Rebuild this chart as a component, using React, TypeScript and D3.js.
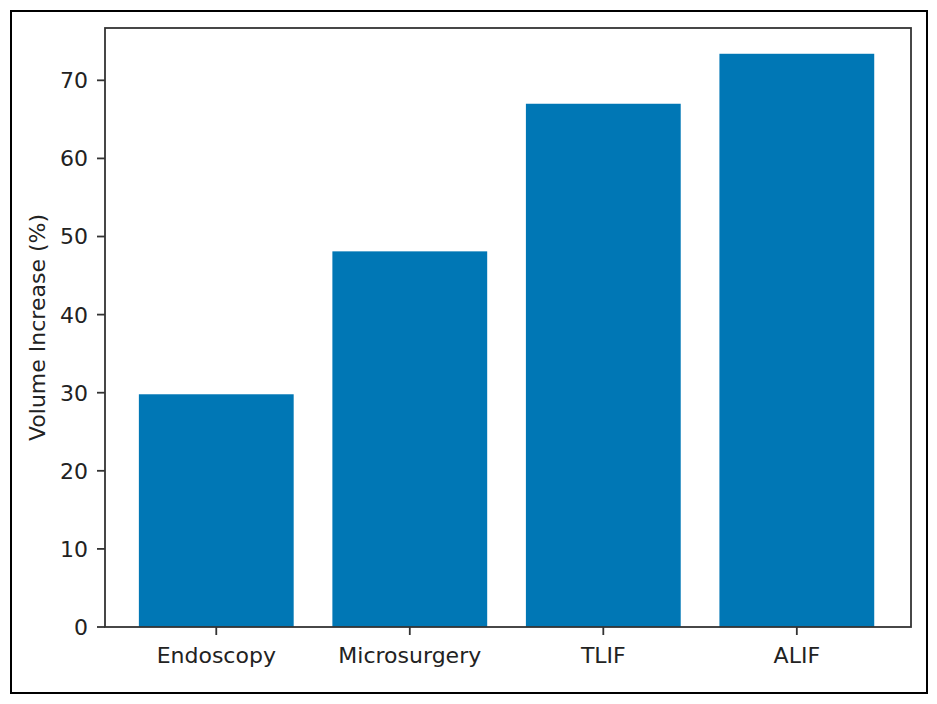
import React from 'react';
import * as d3 from 'd3';

const categories = ['Endoscopy', 'Microsurgery', 'TLIF', 'ALIF'];
const values = [29.8, 48.1, 67.0, 73.4];
const yTicks = [0, 10, 20, 30, 40, 50, 60, 70];

const W = 937;
const H = 704;
const margin = { top: 28, right: 26, bottom: 77, left: 105 };
const FONT = 'DejaVu Sans, sans-serif';
const BAR = '#0077b5';
const AXIS = '#333';

const App: React.FC = () => {
  const innerRight = W - margin.right;
  const innerBottom = H - margin.bottom;

  // matplotlib-style categorical axis: bars at 0..n-1, width 0.8, small margins
  const x = d3.scaleLinear().domain([-0.575, categories.length - 1 + 0.59]).range([margin.left, innerRight]);
  const y = d3.scaleLinear().domain([0, 76.7]).range([innerBottom, margin.top]);
  const barW = x(0.4) - x(-0.4);

  return (
    <svg width={W} height={H} style={{ position: 'absolute', left: 0, top: 0, background: '#fff' }}>
      <rect x={11} y={11} width={916} height={682} fill="none" stroke="#000" strokeWidth={2} />

      {values.map((v, i) => (
        <rect key={categories[i]} x={x(i) - barW / 2} y={y(v)} width={barW} height={y(0) - y(v)} fill={BAR} />
      ))}

      {/* frame */}
      <rect
        x={margin.left}
        y={margin.top}
        width={innerRight - margin.left}
        height={innerBottom - margin.top}
        fill="none"
        stroke={AXIS}
        strokeWidth={1.8}
      />

      {/* y ticks */}
      {yTicks.map(t => (
        <g key={t} transform={`translate(${margin.left},${y(t)})`}>
          <line x1={-8} x2={0} stroke={AXIS} strokeWidth={1.8} />
          <text x={-17} dy="0.36em" textAnchor="end" fontFamily={FONT} fontSize={22} fill="#222">
            {t}
          </text>
        </g>
      ))}

      {/* x ticks */}
      {categories.map((c, i) => (
        <g key={c} transform={`translate(${x(i)},${innerBottom})`}>
          <line y1={0} y2={8} stroke={AXIS} strokeWidth={1.8} />
          <text y={36} textAnchor="middle" fontFamily={FONT} fontSize={22} fill="#222">
            {c}
          </text>
        </g>
      ))}

      <text
        transform={`translate(45,${(margin.top + innerBottom) / 2}) rotate(-90)`}
        textAnchor="middle"
        fontFamily={FONT}
        fontSize={22}
        fill="#222"
      >
        Volume Increase (%)
      </text>
    </svg>
  );
};

export default App;
